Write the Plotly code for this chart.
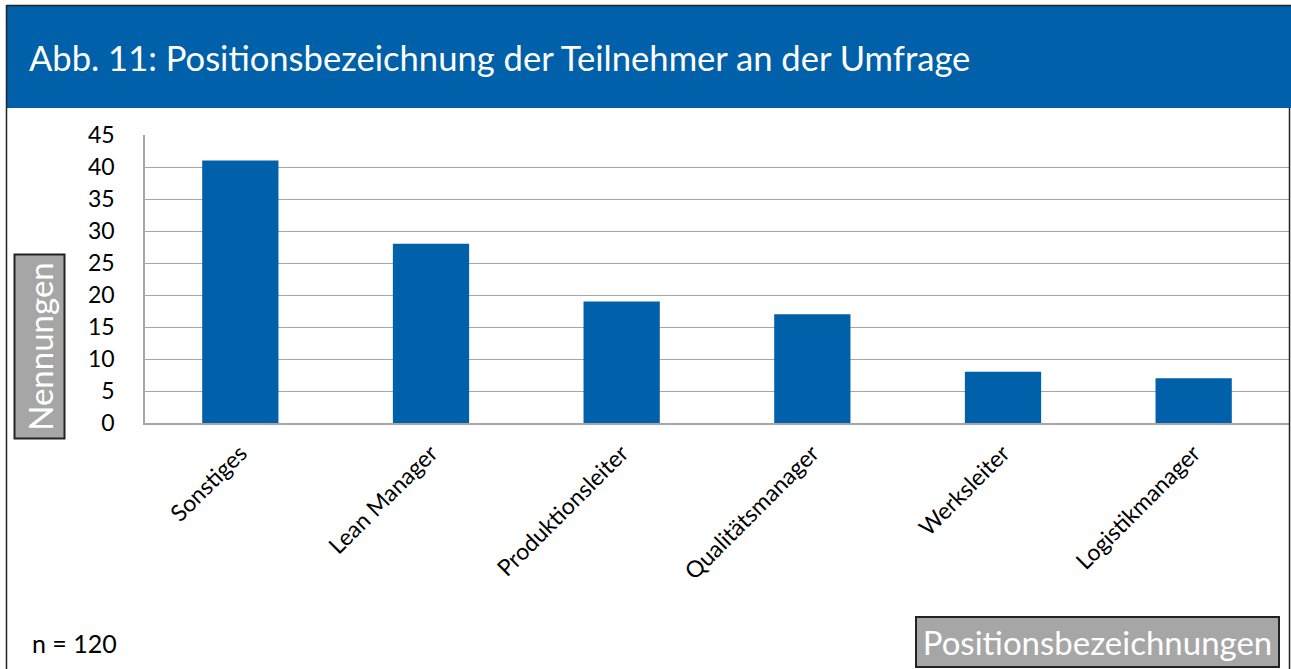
import plotly.graph_objects as go

categories = ["Sonstiges", "Lean Manager", "Produktionsleiter", "Qualitätsmanager", "Werksleiter", "Logistikmanager"]
values = [41, 28, 19, 17, 8, 7]
y_ticks = [0, 5, 10, 15, 20, 25, 30, 35, 40, 45]

W, H = 1291, 669
L, R, T, B = 145, 2, 135, 246
pw, ph = W - L - R, H - T - B

def px(x):
    return (x - L) / pw

def py(y):
    return (H - B - y) / ph

BLUE = "#0060A9"
FONT = "Lato, Carlito, Calibri, sans-serif"

fig = go.Figure(go.Bar(x=categories, y=values, marker=dict(color=BLUE, line=dict(width=0)), width=0.4,
                       hoverinfo="skip"))

fig.update_layout(
    width=W, height=H,
    margin=dict(l=L, r=R, t=T, b=B),
    paper_bgcolor="white", plot_bgcolor="white",
    showlegend=False,
    font=dict(family=FONT, color="black"),
    xaxis=dict(tickangle=-45, tickfont=dict(size=23), showgrid=False, showline=True,
               linecolor="#a6a6a6", linewidth=1.5, ticks="", ticklen=0, ticklabelstandoff=6),
    yaxis=dict(range=[0, 45], tickvals=y_ticks, tickfont=dict(size=23), showgrid=True,
               gridcolor="#a6a6a6", gridwidth=1.2, showline=True, linecolor="#a6a6a6",
               linewidth=1.5, zeroline=False, ticks="", ticklen=0, ticklabelstandoff=24),
    shapes=[
        dict(type="rect", xref="paper", yref="paper", x0=px(7), x1=px(1291), y0=py(6), y1=py(108),
             fillcolor=BLUE, line=dict(width=0), layer="above"),
        dict(type="line", xref="paper", yref="paper", x0=px(6.5), x1=px(6.5), y0=py(5), y1=py(669),
             line=dict(color="#222", width=1.5)),
        dict(type="line", xref="paper", yref="paper", x0=px(1289.5), x1=px(1289.5), y0=py(108), y1=py(669),
             line=dict(color="#222", width=1.5)),
        dict(type="line", xref="paper", yref="paper", x0=px(6.5), x1=px(1291), y0=py(5.5), y1=py(5.5),
             line=dict(color="#222", width=1.5)),
    ],
    annotations=[
        dict(text="Abb. 11: Positionsbezeichnung der Teilnehmer an der Umfrage", xref="paper", yref="paper",
             x=px(27), y=py(57), xanchor="left", yanchor="middle", showarrow=False,
             font=dict(size=34.6, color="white", family=FONT)),
        dict(text="n = 120", xref="paper", yref="paper", x=px(30), y=py(643), xanchor="left",
             yanchor="middle", showarrow=False, font=dict(size=25, color="black", family=FONT)),
        dict(text="Nennungen", xref="paper", yref="paper", x=px(39.5), y=py(346), xanchor="center",
             yanchor="middle", showarrow=False, textangle=-90, width=180, height=46,
             bgcolor="#a6a6a6", bordercolor="#222", borderwidth=2, borderpad=1,
             font=dict(size=33, color="white", family=FONT)),
        dict(text="Positionsbezeichnungen", xref="paper", yref="paper", x=px(1097.5), y=py(642),
             xanchor="center", yanchor="middle", showarrow=False, width=359, height=46,
             bgcolor="#a6a6a6", bordercolor="#222", borderwidth=2, borderpad=1,
             font=dict(size=33, color="white", family=FONT)),
    ],
    bargap=0.6,
)

fig.write_html("out.html", config={"displayModeBar": False},
               post_script="document.body.style.margin='0';document.body.style.padding='0';document.body.style.overflow='hidden';")
